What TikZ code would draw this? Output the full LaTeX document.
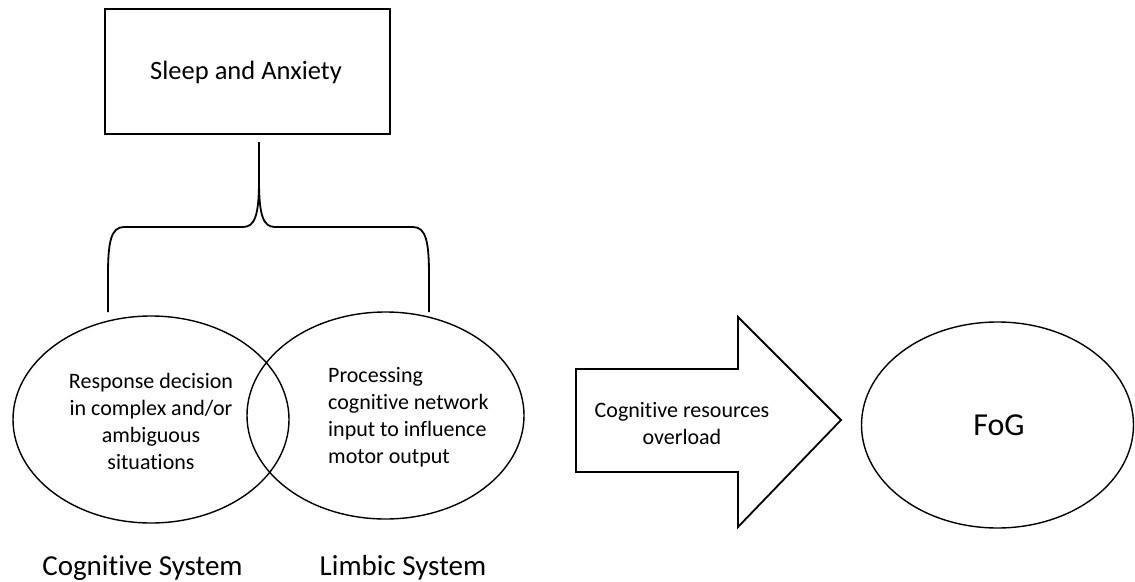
\documentclass[tikz,border=0pt]{standalone}
\usepackage{fontspec}
\setmainfont{Carlito}[Ligatures=NoCommon]
\usetikzlibrary{shapes.geometric}
\tikzset{
  thick line/.style={line width=1.8pt, draw=black},
  oval/.style={ellipse, draw=black, line width=1.4pt, inner sep=0pt},
  txt/.style={inner sep=0pt, text=black},
  small/.style={font=\fontsize{22}{27}\selectfont},
}
\begin{document}
\begin{tikzpicture}[x=1pt, y=-1pt]
\useasboundingbox (0,0) rectangle (1135,581);
% box
\node[thick line, rectangle, minimum width=285pt, minimum height=125pt, inner sep=0pt] (box) at (247.5,71.5) {};
\node[txt, font=\fontsize{26.5}{32}\selectfont] (boxt) at (246,72) {Sleep and Anxiety};
% brace
\coordinate (bt) at (259,142);
\coordinate (bl) at (108,312);
\coordinate (br) at (429,312);
\draw[line width=1.8pt, line join=round]
  (bl) -- (108,275) .. controls (108,242) and (111,227) .. (124,227)
  -- (243,227) .. controls (255,227) and (259,215) .. (259,180) -- (bt);
\draw[line width=1.8pt, line join=round]
  (br) -- (429,275) .. controls (429,242) and (426,227) .. (413,227)
  -- (275,227) .. controls (263,227) and (259,215) .. (259,180);
% ellipses
\node[oval, minimum width=276pt, minimum height=207pt] (cog) at (151,419.5) {};
\node[oval, minimum width=277pt, minimum height=207pt] (lim) at (385.5,415.5) {};
\node[txt, small, align=center] (cogt) at (151,421) {Response decision\\in complex and/or\\ambiguous\\situations};
\node[txt, small, align=left, anchor=west] (limt) at (328,417) {Processing\\cognitive network\\input to influence\\motor output};
% labels
\node[txt, font=\fontsize{29}{34}\selectfont, anchor=base] (cogl) at (142.5,575) {Cognitive System};
\node[txt, font=\fontsize{29}{34}\selectfont, anchor=base] (liml) at (403,575) {Limbic System};
% arrow
\draw[line width=1.8pt, line join=miter]
  (576,369) -- (738,369) -- (738,317) -- (841,420) -- (738,527) -- (738,472) -- (576,472) -- cycle;
\node[txt, small, align=center] (arrt) at (682,424) {Cognitive resources\\overload};
% FoG
\node[oval, minimum width=272pt, minimum height=206pt] (fog) at (997.5,425) {};
\node[txt, font=\fontsize{32}{38}\selectfont] (fogt) at (999,425) {FoG};
\end{tikzpicture}
\end{document}
